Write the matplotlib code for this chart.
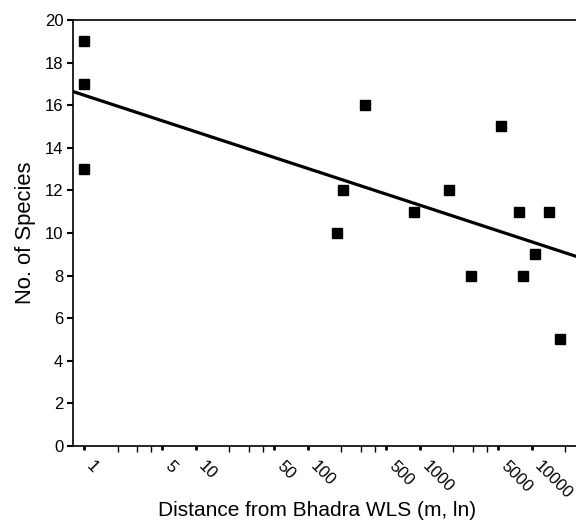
import matplotlib
matplotlib.use("Agg")
import matplotlib.pyplot as plt
import numpy as np
from matplotlib.ticker import FixedLocator, NullFormatter

# distance from Bhadra WLS (m) and number of species
distance = [1, 1, 1, 182, 206, 324, 894, 1830, 2850, 5290, 7650, 8310, 10640, 14170, 18100]
species = [19, 17, 13, 10, 12, 16, 11, 12, 8, 15, 11, 8, 9, 11, 5]

major_ticks = [1, 5, 10, 50, 100, 500, 1000, 5000, 10000]
minor_ticks = [2, 3, 4, 20, 30, 40, 200, 300, 400, 2000, 3000, 4000, 20000]
y_ticks = list(range(0, 21, 2))


def main():
    plt.rcParams['font.family'] = ['Liberation Sans', 'DejaVu Sans']
    fig = plt.figure(figsize=(5.76, 5.25), dpi=100)
    ax = fig.add_axes([0.1267, 0.1505, 0.88, 0.8115])

    x = np.array(distance, dtype=float)
    y = np.array(species, dtype=float)
    ax.plot(x, y, 's', color='black', markersize=6.5, zorder=3)

    # log-linear regression line
    b, a = np.polyfit(np.log(x), y, 1)
    xl = np.array([0.8, 30000.0])
    ax.plot(xl, a + b * np.log(xl), color='black', linewidth=2.3, zorder=2)

    ax.set_xscale('log')
    ax.set_xlim(0.8, 27000)
    ax.set_ylim(0, 20)
    ax.xaxis.set_major_locator(FixedLocator(major_ticks))
    ax.xaxis.set_minor_locator(FixedLocator(minor_ticks))
    ax.xaxis.set_minor_formatter(NullFormatter())
    ax.set_xticklabels([str(t) for t in major_ticks], rotation=-45, ha='left',
                       va='bottom', rotation_mode='anchor', fontsize=12)
    ax.set_yticks(y_ticks)
    ax.set_yticklabels([str(t) for t in y_ticks], fontsize=12)

    ax.tick_params(axis='x', which='major', length=3, width=2, pad=14)
    ax.tick_params(axis='x', which='minor', length=4, width=1)
    ax.tick_params(axis='y', which='major', length=4, width=1.5, pad=3)

    for s in ['left', 'bottom', 'top', 'right']:
        ax.spines[s].set_linewidth(1.2)

    ax.set_xlabel('Distance from Bhadra WLS (m, ln)', fontsize=15)
    ax.xaxis.set_label_coords(0.482, -0.13)
    ax.set_ylabel('No. of Species', fontsize=15.8, labelpad=6)

    fig.savefig('out.png', dpi=100)
    plt.close(fig)


if __name__ == '__main__':
    main()
